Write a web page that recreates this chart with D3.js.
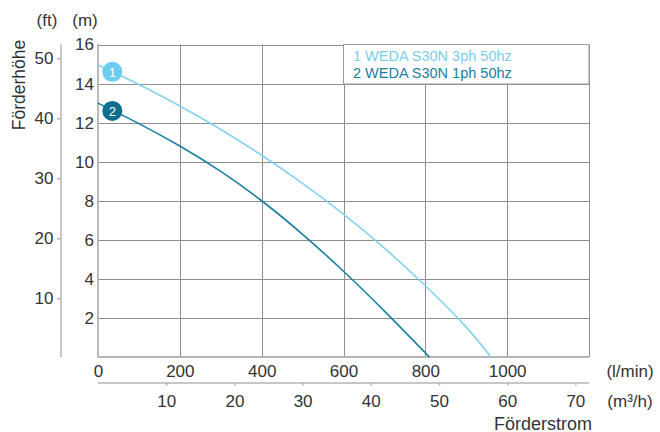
<!DOCTYPE html>
<html>
<head>
<meta charset="utf-8">
<script src="https://cdn.jsdelivr.net/npm/d3@7"></script>
<style>
  html, body { margin: 0; padding: 0; background: #fff; }
  svg { display: block; font-family: "Liberation Sans", Arial, Helvetica, sans-serif; }
</style>
</head>
<body>
<svg id="chart" width="660" height="432"></svg>
<script>
// Pump curves: flow (l/min) vs head (m)
const flow3ph = [0, 100, 200, 300, 400, 500, 600, 700, 800, 900, 960];
const head3ph = [14.95, 13.95, 12.85, 11.65, 10.33, 8.89, 7.31, 5.57, 3.65, 1.53, 0];
const flow1ph = [0, 100, 200, 300, 400, 500, 600, 700, 810];
const head1ph = [13.0, 11.95, 10.8, 9.5, 8.0, 6.28, 4.39, 2.35, 0];

const seriesNames = ["1 WEDA S30N 3ph 50hz", "2 WEDA S30N 1ph 50hz"];
const seriesIds = ["1", "2"];
const markerFlow = [35, 35];
const markerHead = [14.6, 12.6];

const lminTicks = [0, 200, 400, 600, 800, 1000];
const m3hTicks = [10, 20, 30, 40, 50, 60, 70];
const mTicks = [2, 4, 6, 8, 10, 12, 14, 16];
const ftTicks = [10, 20, 30, 40, 50];
const gridX = [200, 400, 600, 800, 1000, 1200];

const colLight = "#85d2f0";
const colDark = "#1a7fa2";
const textCol = "#333";

const svg = d3.select("#chart");

const x = d3.scaleLinear().domain([0, 1200]).range([98, 589]);
const xM3 = d3.scaleLinear().domain([0, 72]).range([98, 589]);
const y = d3.scaleLinear().domain([0, 16]).range([357, 44.5]);
const yFt = d3.scaleLinear().domain([0, 52.5]).range([358.3, 43.3]);

const crisp = v => Math.round(v) + 0.5;

// grid
const grid = svg.append("g");
grid.selectAll("line.gx").data(gridX).join("line")
  .attr("x1", d => crisp(x(d))).attr("x2", d => crisp(x(d)))
  .attr("y1", y(16)).attr("y2", y(0))
  .attr("stroke", "#8e8e8e").attr("stroke-width", 1);
grid.selectAll("line.gy").data(mTicks).join("line")
  .attr("x1", x(0)).attr("x2", x(1200))
  .attr("y1", d => crisp(y(d))).attr("y2", d => crisp(y(d)))
  .attr("stroke", "#8e8e8e").attr("stroke-width", 1);
// left and bottom frame
grid.append("line").attr("x1", x(0)).attr("x2", x(0)).attr("y1", y(16) - 0.5).attr("y2", y(0) + 1)
  .attr("stroke", "#b4b4b4").attr("stroke-width", 1.8);
grid.append("line").attr("x1", x(0)).attr("x2", x(1200)).attr("y1", y(0)).attr("y2", y(0))
  .attr("stroke", "#b4b4b4").attr("stroke-width", 1.8);

// axes
function styleAxis(g, size) {
  g.selectAll("text").attr("fill", textCol).style("font-size", size + "px");
  g.selectAll("line").attr("stroke", "#b4b4b4").attr("stroke-width", 1.5);
  g.select(".domain").attr("stroke", "#b4b4b4").attr("stroke-width", 1.5);
  g.attr("font-family", null);
}

const axM = svg.append("g").attr("transform", `translate(${x(0)},0)`)
  .call(d3.axisLeft(y).tickValues(mTicks).tickSize(0).tickPadding(4).tickFormat(d3.format("d")));
styleAxis(axM, 17);
axM.select(".domain").remove();

const axL = svg.append("g").attr("transform", `translate(0,${y(0)})`)
  .call(d3.axisBottom(x).tickValues(lminTicks).tickSize(0).tickPadding(7.5).tickFormat(d3.format("d")));
styleAxis(axL, 17);
axL.select(".domain").remove();

const axFt = svg.append("g").attr("transform", "translate(60.5,0)")
  .call(d3.axisLeft(yFt).tickValues(ftTicks).tickSizeInner(3.5).tickSizeOuter(0).tickPadding(3.5));
styleAxis(axFt, 17);
axFt.select(".domain").attr("d", `M0.5,${y(16)}V${y(0)}`);

const axM3 = svg.append("g").attr("transform", "translate(0,382.5)")
  .call(d3.axisBottom(xM3).tickValues(m3hTicks).tickSizeInner(3).tickSizeOuter(0).tickPadding(9.5));
styleAxis(axM3, 17);
axM3.select(".domain").attr("d", `M${x(0)},0.5H${x(1200)}`);

// curves
const line = d3.line().x(d => x(d[0])).y(d => y(d[1])).curve(d3.curveNatural);
const pts3 = flow3ph.map((q, i) => [q, head3ph[i]]);
const pts1 = flow1ph.map((q, i) => [q, head1ph[i]]);
svg.append("path").attr("d", line(pts3)).attr("fill", "none")
  .attr("stroke", colLight).attr("stroke-width", 1.6);
svg.append("path").attr("d", line(pts1)).attr("fill", "none")
  .attr("stroke", colDark).attr("stroke-width", 1.6);

// series markers
const markerFill = ["#6ccdee", "#0f6f8f"];
seriesIds.forEach((id, i) => {
  const cx = x(markerFlow[i]), cy = y(markerHead[i]);
  svg.append("circle").attr("cx", cx).attr("cy", cy).attr("r", 10).attr("fill", markerFill[i]);
  svg.append("text").attr("x", cx).attr("y", cy).attr("dy", "0.36em")
    .attr("text-anchor", "middle").attr("fill", "#fff").style("font-size", "13px").text(id);
});

// legend
svg.append("rect").attr("x", 343.5).attr("y", y(16)).attr("width", x(1200) - 343.5).attr("height", 39.5)
  .attr("fill", "#fff").attr("stroke", "#9a9a9a").attr("stroke-width", 1);
[colLight, colDark].forEach((c, i) => {
  svg.append("text").attr("x", 353).attr("y", 60.5 + i * 17.5)
    .attr("fill", i === 0 ? "#7ccdee" : colDark).style("font-size", "14.5px").text(seriesNames[i]);
});

// axis titles and units
const t = (xp, yp, s, size, anchor) => svg.append("text").attr("x", xp).attr("y", yp)
  .attr("fill", textCol).attr("text-anchor", anchor || "start").style("font-size", size + "px").text(s);
t(47, 26, "(ft)", 17, "middle");
t(85, 26, "(m)", 17, "middle");
t(630, 377, "(l/min)", 17, "middle");
t(630, 407, "(m³/h)", 17, "middle");
t(592, 429.5, "Förderstrom", 18, "end");
svg.append("text").attr("transform", "translate(24.5,85) rotate(-90)")
  .attr("text-anchor", "middle").attr("fill", textCol).style("font-size", "17.5px").text("Förderhöhe");
</script>
</body>
</html>
